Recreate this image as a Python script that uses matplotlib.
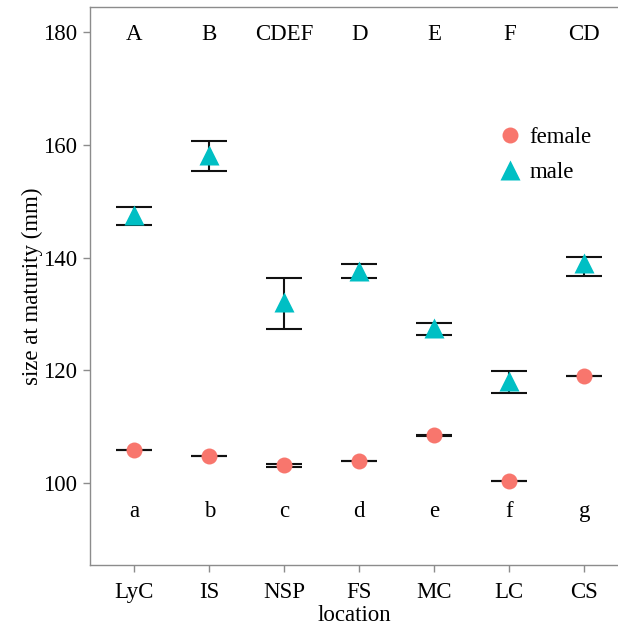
import matplotlib
matplotlib.use("Agg")
import matplotlib.pyplot as plt
import numpy as np

plt.rcParams["font.family"] = ["Liberation Serif", "DejaVu Serif"]

locations = ["LyC", "IS", "NSP", "FS", "MC", "LC", "CS"]
male_mean = [147.5, 158.2, 132.1, 137.6, 127.5, 118.1, 139.0]
male_low = [145.7, 155.3, 127.4, 136.4, 126.2, 115.9, 136.8]
male_high = [148.9, 160.7, 136.4, 138.8, 128.4, 119.9, 140.1]
female_mean = [105.9, 104.8, 103.2, 103.9, 108.5, 100.4, 119.0]
female_low = [105.85, 104.75, 102.95, 103.85, 108.45, 100.35, 118.95]
female_high = [105.95, 104.85, 103.45, 103.95, 108.55, 100.45, 119.05]
upper_letters = ["A", "B", "CDEF", "D", "E", "F", "CD"]
lower_letters = ["a", "b", "c", "d", "e", "f", "g"]

C_FEMALE = "#F8766D"
C_MALE = "#00BFC4"
C_BORDER = "#8c8c8c"
FS = 16.5

fig = plt.figure(figsize=(6.18, 6.27), dpi=100)
ax = fig.add_axes([0.1456, 0.0989, 0.8544, 0.8899])

x = np.arange(1, len(locations) + 1)

for mean, lo, hi in [(male_mean, male_low, male_high),
                     (female_mean, female_low, female_high)]:
    mean = np.array(mean)
    err = [mean - np.array(lo), np.array(hi) - mean]
    ax.errorbar(x, mean, yerr=err, fmt="none", ecolor="#111111", elinewidth=1.5,
                capsize=13.3, capthick=1.5, zorder=2)

ax.plot(x, female_mean, "o", color=C_FEMALE, markersize=11.5, mec="none",
        label="female", zorder=3)
ax.plot(x, male_mean, "^", color=C_MALE, markersize=14, mec="none",
        label="male", zorder=3)

for xi, t in zip(x, upper_letters):
    ax.text(xi, 179.5, t, ha="center", va="center", fontsize=FS)
for xi, t in zip(x, lower_letters):
    ax.text(xi, 95.0, t, ha="center", va="center", fontsize=FS)

ax.set_xlim(0.41, 7.45)
ax.set_ylim(85.5, 184.4)
ax.set_xticks(x)
ax.set_xticklabels(locations)
ax.set_yticks([100, 120, 140, 160, 180])
ax.tick_params(axis="both", labelsize=FS, color=C_BORDER, length=5, width=1,
               labelcolor="black")
ax.tick_params(axis="x", pad=7)
ax.tick_params(axis="y", pad=4)
for side in ["left", "top", "bottom"]:
    ax.spines[side].set_color(C_BORDER)
    ax.spines[side].set_linewidth(1)
ax.spines["right"].set_visible(False)

ax.set_xlabel("location", fontsize=FS, labelpad=2)
ax.set_ylabel("size at maturity (mm)", fontsize=FS, labelpad=0)

ax.legend(loc="center left", bbox_to_anchor=(0.73, 0.735), frameon=False,
          fontsize=FS, handletextpad=0.25, labelspacing=0.6, handlelength=1.2)

fig.savefig("out.png", dpi=100)
